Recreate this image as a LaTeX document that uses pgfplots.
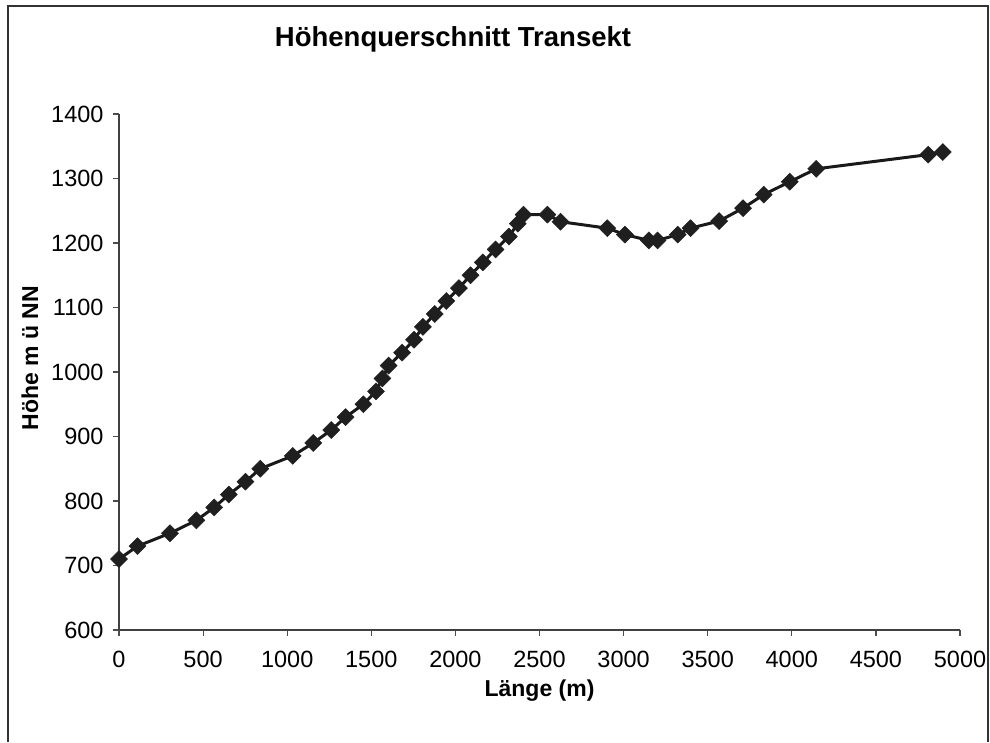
\documentclass[border=0pt]{standalone}
\usepackage{fontspec}
\setmainfont{Liberation Sans}
\usepackage{pgfplots}
\pgfplotsset{compat=1.18}
\begin{document}
\begin{tikzpicture}[x=1pt,y=1pt]
\path[use as bounding box] (0,0) rectangle (990,742);
\draw[line width=2pt, color=black!80] (8,0) -- (8,736) -- (988,736) -- (988,0);
\node[font=\bfseries\fontsize{27.5}{32}\selectfont, anchor=center] at (453,703) {Höhenquerschnitt Transekt};
\begin{axis}[
  at={(119pt,112pt)}, anchor=south west,
  scale only axis, width=841pt, height=516pt,
  xmin=0, xmax=5000, ymin=600, ymax=1400,
  axis x line*=bottom, axis y line*=left,
  axis line style={-, line width=1.2pt, color=black!75},
  xtick={0,500,...,5000}, ytick={600,700,...,1400},
  tick align=outside, major tick length=6pt,
  tick style={line width=1.2pt, color=black!70},
  scaled ticks=false,
  /pgf/number format/1000 sep={},
  /pgf/number format/assume math mode=true,
  ticklabel style={font=\fontsize{23.5}{28}\selectfont},
  xticklabel style={yshift=-12pt},
  yticklabel style={xshift=-6pt},
  xlabel={Länge (m)},
  ylabel={Höhe m ü NN},
  xlabel style={font=\bfseries\fontsize{23}{27}\selectfont, at={(axis description cs:0.5,0)}, anchor=center, yshift=-61pt},
  ylabel style={font=\bfseries\fontsize{23}{27}\selectfont, at={(axis description cs:0,0.527)}, anchor=center, yshift=89pt},
  clip=false,
]
\addplot[line width=3pt, color=black!90, mark=square*, mark size=6pt,
  mark options={rotate=45, fill=black!88, draw=black!88, line width=0.5pt}]
  coordinates {
  (0,710) (110,730) (303,750) (460,770) (566,790) (653,810) (752,830) (840,850)
  (1033,870) (1155,890) (1262,910) (1347,930) (1453,950) (1528,970) (1566,990)
  (1603,1010) (1683,1030) (1754,1050) (1807,1070) (1877,1090) (1946,1110)
  (2021,1130) (2090,1150) (2163,1170) (2239,1190) (2318,1210) (2371,1230)
  (2405,1244) (2547,1244) (2625,1233) (2903,1223) (3008,1213) (3150,1204)
  (3202,1204) (3322,1213) (3398,1223) (3568,1234) (3710,1254) (3833,1275)
  (3988,1295) (4145,1315) (4811,1337) (4898,1341)
  };
\end{axis}
\end{tikzpicture}
\end{document}
